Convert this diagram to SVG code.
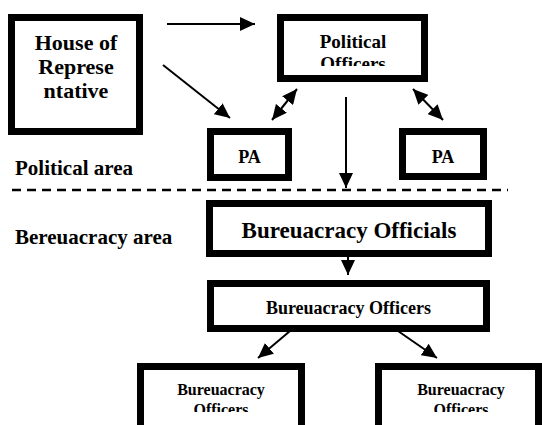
<svg xmlns="http://www.w3.org/2000/svg" width="542" height="425" viewBox="0 0 542 425">
<style>
.box{fill:#fff;stroke:#000;stroke-width:7}
.t{font-family:"Liberation Serif","Times New Roman",serif;font-weight:bold;fill:#000;text-anchor:middle}
.lbl{font-family:"Liberation Serif","Times New Roman",serif;font-weight:bold;fill:#000;font-size:21px}
.c{fill:none;stroke:#000;stroke-width:2}
.dash{fill:none;stroke:#000;stroke-width:2.5;stroke-dasharray:9 6}
</style>
<defs>
<marker id="ah" markerUnits="userSpaceOnUse" markerWidth="15" markerHeight="14" refX="15" refY="7" orient="auto-start-reverse" viewBox="0 0 15 14">
<path d="M0,0 L15,7 L0,14 z" fill="#000"/>
</marker>
<clipPath id="clipPO"><rect x="277" y="14" width="151" height="52"/></clipPath>
<clipPath id="clipBL"><rect x="137" y="363" width="168" height="49"/></clipPath>
<clipPath id="clipBR"><rect x="375" y="363" width="167" height="49"/></clipPath>
</defs>
<rect width="542" height="425" fill="#fff"/>

<g id="house">
<rect class="box" x="11.5" y="17.5" width="128" height="114"/>
<text class="t" font-size="22" x="76" y="50">House of</text>
<text class="t" font-size="22" x="76" y="74">Represe</text>
<text class="t" font-size="22" x="76" y="98">ntative</text>
</g>

<g id="political-officers">
<rect class="box" x="280.5" y="17.5" width="144" height="61"/>
<g clip-path="url(#clipPO)">
<text class="t" font-size="19" x="353" y="48">Political</text>
<text class="t" font-size="19" x="353" y="70">Officers</text>
</g>
</g>

<g id="pa-left">
<rect class="box" x="210.5" y="131.5" width="78" height="46"/>
<text class="t" font-size="18" x="249.5" y="163">PA</text>
</g>

<g id="pa-right">
<rect class="box" x="402.5" y="131.5" width="81" height="45"/>
<text class="t" font-size="18" x="443" y="163">PA</text>
</g>

<g id="political-area-label">
<text class="lbl" x="15" y="175">Political area</text>
</g>

<g id="divider">
<line class="dash" x1="12" y1="190" x2="508" y2="190"/>
</g>

<g id="bureaucracy-area-label">
<text class="lbl" x="15" y="244">Bereuacracy area</text>
</g>

<g id="bureaucracy-officials">
<rect class="box" x="209.5" y="203.5" width="279" height="50"/>
<text class="t" font-size="23" x="349" y="238">Bureuacracy Officials</text>
</g>

<g id="bureaucracy-officers">
<rect class="box" x="210.5" y="283.5" width="276" height="45"/>
<text class="t" font-size="18" x="348.5" y="314">Bureuacracy Officers</text>
</g>

<g id="bureaucracy-officers-left">
<rect class="box" x="140.5" y="366.5" width="161" height="80"/>
<g clip-path="url(#clipBL)">
<text class="t" font-size="16" x="221" y="395">Bureuacracy</text>
<text class="t" font-size="16" x="221" y="415">Officers</text>
</g>
</g>

<g id="bureaucracy-officers-right">
<rect class="box" x="378.5" y="366.5" width="160" height="80"/>
<g clip-path="url(#clipBR)">
<text class="t" font-size="16" x="461" y="395">Bureuacracy</text>
<text class="t" font-size="16" x="461" y="415">Officers</text>
</g>
</g>

<g id="connectors">
<line class="c" x1="167" y1="24" x2="255" y2="24" marker-end="url(#ah)"/>
<line class="c" x1="163" y1="65" x2="230" y2="118" marker-end="url(#ah)"/>
<line class="c" x1="297" y1="89" x2="272" y2="120" marker-start="url(#ah)" marker-end="url(#ah)"/>
<line class="c" x1="413" y1="89" x2="443" y2="120" marker-start="url(#ah)" marker-end="url(#ah)"/>
<line class="c" x1="346" y1="97" x2="346" y2="188" marker-end="url(#ah)"/>
<line class="c" x1="348" y1="257" x2="348" y2="275" marker-end="url(#ah)"/>
<line class="c" x1="290" y1="331" x2="258" y2="358" marker-end="url(#ah)"/>
<line class="c" x1="398" y1="331" x2="437" y2="358" marker-end="url(#ah)"/>
</g>
</svg>
